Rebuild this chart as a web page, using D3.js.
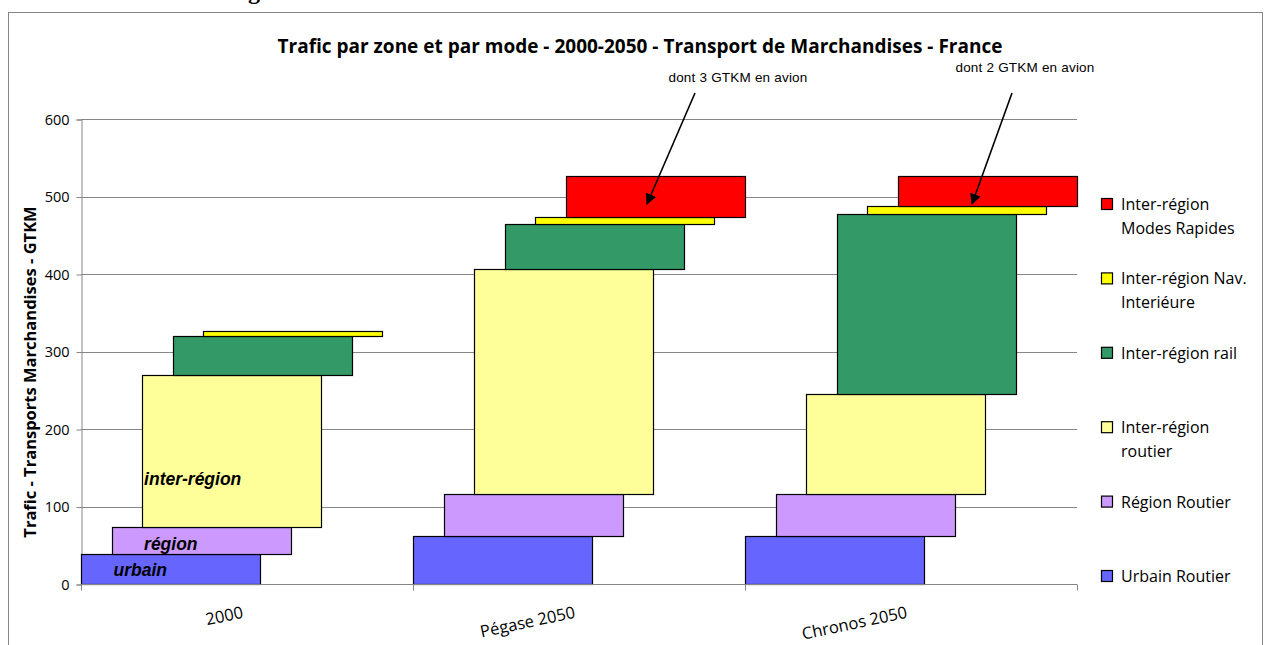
<!DOCTYPE html>
<html>
<head>
<meta charset="utf-8">
<script src="https://cdn.jsdelivr.net/npm/d3@7"></script>
<style>
  body { margin: 0; background: #fff; }
  svg { display: block; }
</style>
</head>
<body>
<svg id="chart" width="1265" height="645"></svg>
<script>
// Categories and series
const categories = ["2000", "Pégase 2050", "Chronos 2050"];
const seriesKeys = ["urbain", "region", "interRoutier", "interRail", "interNav", "interRapides"];
const seriesLabels = [
  ["Urbain Routier"],
  ["Région Routier"],
  ["Inter-région", "routier"],
  ["Inter-région rail"],
  ["Inter-région Nav.", "Interiéure"],
  ["Inter-région", "Modes Rapides"]
];
const seriesColors = ["#6666ff", "#cc99ff", "#ffff99", "#339966", "#ffff00", "#ff0000"];

// Values (GTKM), one per category
const urbain = [39, 62, 62];
const region = [34, 54, 54];
const interRoutier = [197, 290, 129];
const interRail = [50, 58, 232];
const interNav = [7, 9, 11];
const interRapides = [0, 53, 38];

const yTicks = [0, 100, 200, 300, 400, 500, 600];

// Text labels inside the 2000 column
const barNotes = [
  { text: "urbain", series: 1, value: 10 },
  { text: "région", series: 2, value: 44 },
  { text: "inter-région", series: 2, value: 128 }
];

const svg = d3.select("#chart");

// Frame
svg.append("rect")
  .attr("x", 8.5).attr("y", 12.5)
  .attr("width", 1254).attr("height", 700)
  .attr("fill", "#fff").attr("stroke", "#868686").attr("stroke-width", 1);

// cut-off heading above frame
svg.append("text")
  .attr("x", 248).attr("y", -1)
  .attr("font-family", "Liberation Serif").attr("font-weight", "bold")
  .attr("font-size", 24).text("g");

// Scales
const x = d3.scaleBand().domain(categories).range([81, 1077]);
const bw = x.bandwidth();
const barW = bw * 0.54;
const offset = d3.scaleLinear().domain([0, 5]).range([0, bw * 0.46]);
const y = d3.scaleLinear().domain([0, 600]).range([584, 119]);

// Build table and stack
const table = categories.map((c, i) => ({
  cat: c,
  urbain: urbain[i], region: region[i], interRoutier: interRoutier[i],
  interRail: interRail[i], interNav: interNav[i], interRapides: interRapides[i]
}));
const stacked = d3.stack().keys(seriesKeys)(table);

// Gridlines
svg.append("g")
  .selectAll("line")
  .data(yTicks.filter(t => t > 0))
  .join("line")
  .attr("x1", 81).attr("x2", 1077)
  .attr("y1", d => Math.round(y(d)) + 0.5).attr("y2", d => Math.round(y(d)) + 0.5)
  .attr("stroke", "#868686").attr("stroke-width", 1);

// Y axis
const yAxis = svg.append("g")
  .attr("transform", "translate(81.5,0.5)")
  .call(d3.axisLeft(y).tickValues(yTicks).tickSize(5).tickPadding(7));
yAxis.select(".domain").attr("stroke", "#868686");
yAxis.selectAll(".tick line").attr("stroke", "#868686");
yAxis.selectAll(".tick text")
  .attr("font-family", "Open Sans").attr("font-size", 14.5).attr("fill", "#000");

// Bars
svg.append("g")
  .selectAll("g")
  .data(stacked)
  .join("g")
  .attr("fill", (d, i) => seriesColors[i])
  .each(function(s, si) {
    d3.select(this).selectAll("rect")
      .data(s.filter(d => d[1] - d[0] > 0))
      .join("rect")
      .attr("x", d => Math.round(x(d.data.cat) + offset(si)) + 0.5)
      .attr("y", d => Math.round(y(d[1])) + 0.5)
      .attr("width", Math.round(barW))
      .attr("height", d => Math.round(y(d[0])) - Math.round(y(d[1])))
      .attr("stroke", "#000").attr("stroke-width", 1.2);
  });

// X axis
const xAxis = svg.append("g")
  .attr("transform", "translate(0," + (Math.round(y(0)) + 0.5) + ")");
xAxis.append("line")
  .attr("x1", 81).attr("x2", 1077)
  .attr("stroke", "#868686");
xAxis.selectAll(".xt")
  .data(categories.concat([null]))
  .join("line")
  .attr("class", "xt")
  .attr("x1", (d, i) => Math.round(81 + i * bw) + 0.5)
  .attr("x2", (d, i) => Math.round(81 + i * bw) + 0.5)
  .attr("y1", 0).attr("y2", 6)
  .attr("stroke", "#868686");
xAxis.selectAll(".xl")
  .data(categories)
  .join("text")
  .attr("class", "xl")
  .attr("transform", d => "translate(" + (x(d) + bw / 2 - 3) + ",33) rotate(-12)")
  .attr("text-anchor", "end")
  .attr("font-family", "Open Sans").attr("font-size", 16.5)
  .text(d => d);

// Notes inside bars
svg.append("g")
  .selectAll("text")
  .data(barNotes)
  .join("text")
  .attr("x", d => x(categories[0]) + offset(d.series) + 2)
  .attr("y", d => y(d.value))
  .attr("font-family", "Liberation Sans").attr("font-weight", "bold")
  .attr("font-style", "italic").attr("font-size", 17.5)
  .text(d => d.text);

// Title
svg.append("text")
  .attr("x", 640).attr("y", 53)
  .attr("text-anchor", "middle")
  .attr("font-family", "Open Sans").attr("font-weight", "bold").attr("font-size", 19)
  .text("Trafic par zone et par mode - 2000-2050 - Transport de Marchandises - France");

// Y title
svg.append("text")
  .attr("transform", "translate(36,372) rotate(-90)")
  .attr("text-anchor", "middle")
  .attr("font-family", "Open Sans").attr("font-weight", "bold").attr("font-size", 16.5)
  .text("Trafic - Transports Marchandises - GTKM");

// Annotations with arrows
svg.append("defs").append("marker")
  .attr("id", "arrow").attr("viewBox", "0 0 10 10")
  .attr("refX", 9).attr("refY", 5)
  .attr("markerWidth", 7).attr("markerHeight", 7)
  .attr("orient", "auto")
  .append("path").attr("d", "M0,0 L10,5 L0,10 z").attr("fill", "#000");

const notes = [
  { text: "dont 3 GTKM en avion", tx: 738, ty: 82, x1: 695, y1: 93, x2: 647, y2: 204 },
  { text: "dont 2 GTKM en avion", tx: 1025, ty: 72, x1: 1012, y1: 93, x2: 972, y2: 204 }
];
const noteG = svg.append("g");
noteG.selectAll("text")
  .data(notes)
  .join("text")
  .attr("x", d => d.tx).attr("y", d => d.ty)
  .attr("text-anchor", "middle")
  .attr("font-family", "Liberation Sans").attr("font-size", 13.5)
  .attr("letter-spacing", 0.2)
  .text(d => d.text);
noteG.selectAll("line")
  .data(notes)
  .join("line")
  .attr("x1", d => d.x1).attr("y1", d => d.y1)
  .attr("x2", d => d.x2).attr("y2", d => d.y2)
  .attr("stroke", "#000").attr("stroke-width", 1.6)
  .attr("marker-end", "url(#arrow)");

// Legend
const legendOrder = d3.range(seriesKeys.length).reverse();
const ly = d3.scalePoint().domain(legendOrder).range([204, 576]);
const legend = svg.append("g")
  .selectAll("g")
  .data(legendOrder)
  .join("g")
  .attr("transform", i => "translate(1101," + ly(i) + ")");
legend.append("rect")
  .attr("x", 0.5).attr("y", -5.5)
  .attr("width", 11).attr("height", 11)
  .attr("fill", i => seriesColors[i])
  .attr("stroke", "#000").attr("stroke-width", 1.2);
legend.append("text")
  .attr("x", 20)
  .attr("font-family", "Open Sans").attr("font-size", 16)
  .selectAll("tspan")
  .data(i => seriesLabels[i])
  .join("tspan")
  .attr("x", 20)
  .attr("y", (d, j) => 6 + j * 24)
  .text(d => d);
</script>
</body>
</html>
